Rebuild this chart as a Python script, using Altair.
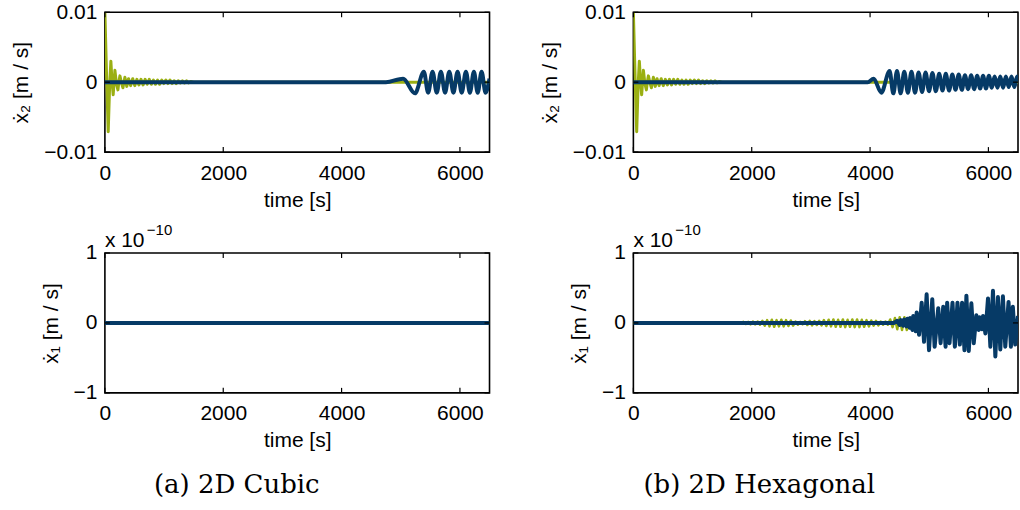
import altair as alt
import pandas as pd

# ---------------- data ----------------
BLUE = "#063a66"
GREEN = "#9aaf12"
FONT = "Liberation Sans"
X_MAX = 6500

x_ticks = [0, 2000, 4000, 6000]
y2_ticks = [-0.01, 0, 0.01]     # top panels, m/s
y1_ticks = [-1, 0, 1]           # bottom panels, x 1e-10 m/s

# top panels: green series (initial transient), same look in both columns
green_x2_t = [0, 28, 56, 80, 101, 121, 140, 155, 169, 195, 220, 237, 254, 280, 305,
              322, 338, 370, 400, 435, 470, 505, 540, 575, 610, 645, 680, 715, 750,
              785, 820, 855, 890, 925, 960, 995, 1030, 1065, 1100, 1135, 1170, 1205,
              1240, 1275, 1310, 1345, 1380, 1415, 1450, 1500, 6500]
green_x2_v = [0.0100, 0.0010, -0.0071, -0.0005, 0.0030, 0.0000, -0.0018, 0.0000, 0.0017,
              -0.0002, -0.0011, 0.0001, 0.0009, -0.0001, -0.0008, 0.0000, 0.0007, -0.0006,
              0.0005, -0.0005, 0.0005, -0.0005, 0.0004, -0.0004, 0.0004, -0.0004, 0.0004,
              -0.0003, 0.0004, -0.0003, 0.0003, -0.0003, 0.0003, -0.0003, 0.0003, -0.0002,
              0.0003, -0.0002, 0.0003, -0.0002, 0.0002, -0.0002, 0.0002, -0.0001, 0.0002,
              -0.0001, 0.0002, -0.0001, 0.0001, 0.0000, 0.0000]

# top-left (2D cubic): blue series, peaks and troughs
cubic_x2_blue_t = [0, 4750, 5040, 5240, 5390, 5463, 5537, 5608, 5678, 5749, 5820, 5890,
                   5960, 6030, 6101, 6168, 6236, 6300, 6366, 6433, 6500]
cubic_x2_blue_v = [0, 0, 0.0005, -0.0016, 0.0015, -0.0015, 0.0015, -0.0015, 0.0015,
                   -0.0015, 0.0015, -0.0015, 0.0015, -0.0015, 0.0015, -0.0015, 0.0015,
                   -0.0015, 0.0015, -0.0015, 0.0005]

# top-right (2D hexagonal): blue series
hex_x2_blue_t = [0, 3960, 4060, 4190, 4330, 4393, 4455, 4517, 4578, 4639, 4700, 4760,
                 4820, 4879, 4938, 4996, 5054, 5111, 5168, 5224, 5280, 5335, 5390, 5444,
                 5498, 5551, 5604, 5656, 5708, 5759, 5810, 5860, 5910, 5959, 6008, 6057,
                 6105, 6153, 6200, 6248, 6295, 6343, 6390, 6438, 6485, 6500]
hex_x2_blue_v = [0, 0, 0.0005, -0.0015,
                 0.0016, -0.0016, 0.0016, -0.0016, 0.0015,
                 -0.0015, 0.0015, -0.0015, 0.0014, -0.0014,
                 0.0014, -0.0013, 0.0013, -0.0013, 0.0012,
                 -0.0012, 0.0012, -0.0012, 0.0011, -0.0011,
                 0.0011, -0.0011, 0.0010, -0.0010, 0.0010,
                 -0.0010, 0.0009, -0.0009, 0.0009, -0.0009,
                 0.0009, -0.0008, 0.0008, -0.0008, 0.0008,
                 -0.0008, 0.0008, -0.0007, 0.0008, -0.0007,
                 0.0008, 0.0004]

# bottom-left (2D cubic): both series stay at zero
cubic_x1_t = [0, 6500]
cubic_x1_green_v = [0, 0]
cubic_x1_blue_v = [0, 0]

# bottom-right (2D hexagonal), values in units of 1e-10 m/s
hex_x1_green_peak_t = [1700, 1780, 1860, 1940, 2020, 2100, 2180, 2260, 2340, 2420, 2500,
                       2580, 2660, 2740, 2820, 2900, 2980, 3060, 3140, 3220, 3300, 3380,
                       3460, 3540, 3620, 3700, 3780, 3860, 3940, 4020, 4100, 4180, 4260,
                       4340, 4420, 4500, 4580, 4660]
hex_x1_green_peak_v = [0.01, 0.01, 0.015, 0.015, 0.02, 0.02, 0.03, 0.04, 0.045, 0.04,
                       0.045, 0.04, 0.035, 0.02, 0.015, 0.025, 0.03, 0.025, 0.03, 0.04,
                       0.045, 0.05, 0.045, 0.05, 0.045, 0.05, 0.05, 0.045, 0.04, 0.035,
                       0.03, 0.02, 0.02, 0.05, 0.07, 0.08, 0.08, 0.06]
hex_x1_green_trough_t = [1740, 1820, 1900, 1980, 2060, 2140, 2220, 2300, 2380, 2460, 2540,
                         2620, 2700, 2780, 2860, 2940, 3020, 3100, 3180, 3260, 3340, 3420,
                         3500, 3580, 3660, 3740, 3820, 3900, 3980, 4060, 4140, 4220, 4300,
                         4380, 4460, 4540, 4620, 4700]
hex_x1_green_trough_v = [-0.01, -0.01, -0.015, -0.02, -0.02, -0.025, -0.04, -0.05, -0.055,
                         -0.05, -0.05, -0.045, -0.04, -0.025, -0.02, -0.03, -0.035, -0.03,
                         -0.035, -0.045, -0.05, -0.055, -0.055, -0.06, -0.055, -0.06,
                         -0.06, -0.055, -0.05, -0.04, -0.035, -0.025, -0.025, -0.06,
                         -0.09, -0.10, -0.10, -0.08]
hex_x1_green_ends_t = [0, 1660, 6500]
hex_x1_green_ends_v = [0, 0, 0]

hex_x1_peak_t = [4460, 4520, 4575, 4630, 4676, 4730, 4788, 4872, 4956, 5051, 5152, 5236,
                 5303, 5393, 5477, 5555, 5628, 5712, 5796, 5850, 5909, 5993, 6077, 6161,
                 6245, 6340, 6413]
hex_x1_peak_v = [0.03, 0.04, 0.05, 0.06, 0.07, 0.10, 0.15, 0.29, 0.41, 0.34, 0.21, 0.23,
                 0.29, 0.29, 0.29, 0.29, 0.39, 0.28, 0.11, 0.08, 0.10, 0.35, 0.46, 0.37,
                 0.38, 0.30, 0.23]
hex_x1_trough_t = [4500, 4560, 4615, 4670, 4716, 4770, 4828, 4912, 4996, 5091, 5192, 5276,
                   5343, 5433, 5517, 5595, 5668, 5752, 5836, 5890, 5949, 6033, 6117, 6201,
                   6285, 6380, 6453]
hex_x1_trough_v = [-0.03, -0.04, -0.05, -0.07, -0.10, -0.12, -0.17, -0.27, -0.39, -0.34,
                   -0.29, -0.34, -0.29, -0.34, -0.31, -0.39, -0.40, -0.29, -0.10, -0.09,
                   -0.15, -0.34, -0.48, -0.38, -0.34, -0.34, -0.31]
hex_x1_ends_t = [0, 4400, 6500]
hex_x1_ends_v = [0, 0, 0.10]

# ---------------- layout ----------------
W, H = 385, 140


def frame(t, v):
    return pd.DataFrame({"t": t, "v": v})


def x_enc():
    return alt.X(
        "t:Q",
        scale=alt.Scale(domain=[0, X_MAX], nice=False, zero=False),
        axis=alt.Axis(values=x_ticks, format="d", title="time [s]", labelPadding=10,
                      titlePadding=6, labelFlush=False, labelOverlap=False, domain=False,
                      ticks=False, grid=False, tickCount=10),
    )


def y_enc(domain, ticks, label_expr, title):
    return alt.Y(
        "v:Q",
        scale=alt.Scale(domain=domain, nice=False, zero=False),
        axis=alt.Axis(values=ticks, labelExpr=label_expr, title=title, labelPadding=8,
                      titlePadding=12, labelFlush=False, labelOverlap=False,
                      domain=False, ticks=False, grid=False, tickCount=5),
    )


def panel(layers, y, yticks, extra=()):
    x = x_enc()
    out = [l(x, y) for l in layers]
    tx = alt.Chart(pd.DataFrame({"t": x_ticks}))
    ty = alt.Chart(pd.DataFrame({"v": yticks}))
    rule = dict(color="black", strokeWidth=1.2)
    out += [
        tx.mark_rule(**rule).encode(x=x, y=alt.value(0), y2=alt.value(5)),
        tx.mark_rule(**rule).encode(x=x, y=alt.value(H - 5), y2=alt.value(H)),
        ty.mark_rule(**rule).encode(y=y, x=alt.value(0), x2=alt.value(5)),
        ty.mark_rule(**rule).encode(y=y, x=alt.value(W - 5), x2=alt.value(W)),
    ]
    out += list(extra)
    return alt.layer(*out).properties(width=W, height=H)


def green_line(df, sw=3):
    return lambda x, y: alt.Chart(df).mark_line(
        color=GREEN, strokeWidth=sw, clip=True, strokeJoin="round").encode(x=x, y=y)


def blue_line(df, interp="monotone", sw=4):
    return lambda x, y: alt.Chart(df).mark_line(
        color=BLUE, strokeWidth=sw, clip=True, strokeJoin="round",
        interpolate=interp).encode(x=x, y=y)


one = pd.DataFrame({"a": [0]})


def text(s, x, y, size=21, font=FONT):
    return alt.Chart(one).mark_text(
        font=font, fontSize=size, align="left", baseline="middle", color="black"
    ).encode(x=alt.value(x), y=alt.value(y), text=alt.value(s))


def caption(s, cx, y):
    return alt.Chart(one).mark_text(
        font="DejaVu Serif", fontSize=26, align="center", baseline="middle",
        color="black").encode(x=alt.value(cx), y=alt.value(y), text=alt.value(s))


top_labels = "datum.value > 0.005 ? '0.01' : (datum.value < -0.005 ? '\u22120.01' : '0')"
bot_labels = "datum.value > 0.5 ? '1' : (datum.value < -0.5 ? '\u22121' : '0')"

y_top = y_enc([-0.01, 0.01], y2_ticks, top_labels, "ẋ₂  [m / s]")
y_bot = y_enc([-1, 1], y1_ticks, bot_labels, "ẋ₁  [m / s]")

green_top = frame(green_x2_t, green_x2_v)

tl = panel([green_line(green_top), blue_line(frame(cubic_x2_blue_t, cubic_x2_blue_v))],
           y_top, y2_ticks)
tr = panel([green_line(green_top), blue_line(frame(hex_x2_blue_t, hex_x2_blue_v))],
           y_top, y2_ticks)

exp_text = [text("x 10", 0, -12), text("−10", 42, -23, size=15)]

bl = panel([green_line(frame(cubic_x1_t, cubic_x1_green_v)),
            blue_line(frame(cubic_x1_t, cubic_x1_blue_v), interp="linear")],
           y_bot, y1_ticks,
           extra=exp_text + [caption("(a) 2D Cubic", 132, 232)])

hex_blue = pd.concat([
    frame(hex_x1_ends_t, hex_x1_ends_v),
    frame(hex_x1_peak_t, hex_x1_peak_v),
    frame(hex_x1_trough_t, hex_x1_trough_v),
]).sort_values("t")
hex_green = pd.concat([
    frame(hex_x1_green_ends_t, hex_x1_green_ends_v),
    frame(hex_x1_green_peak_t, hex_x1_green_peak_v),
    frame(hex_x1_green_trough_t, hex_x1_green_trough_v),
]).sort_values("t")

br = panel([green_line(hex_green, sw=2.5), blue_line(hex_blue, interp="linear", sw=4)],
           y_bot, y1_ticks,
           extra=exp_text + [caption("(b) 2D Hexagonal", 126, 232)])

chart = alt.concat(
    tl, tr, bl, br, columns=2, spacing={"row": 101, "column": 144}, bounds="flush"
).properties(
    padding={"left": 10, "top": 0, "right": 0, "bottom": 0}
).configure_view(
    stroke="black", strokeWidth=1.6
).configure_axis(
    labelFont=FONT, labelFontSize=21, labelColor="black",
    titleFont=FONT, titleFontSize=21, titleFontWeight="normal", titleColor="black",
)

chart.save("out.html", embed_options={"renderer": "svg", "actions": False})
